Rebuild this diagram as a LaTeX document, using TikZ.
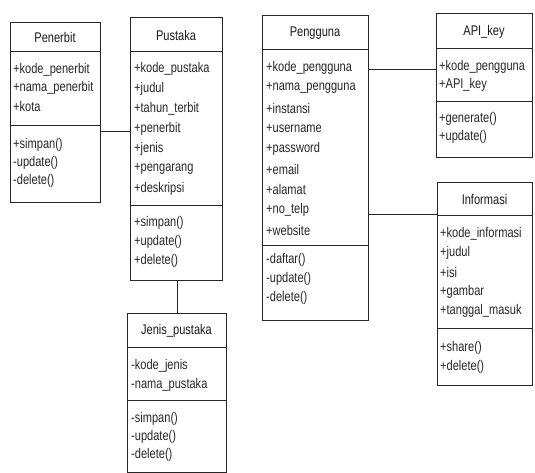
\documentclass[tikz,border=0pt]{standalone}
\usepackage{fontspec}
\setmainfont{Liberation Sans}[FakeStretch=0.79]
\begin{document}
\begin{tikzpicture}[x=1pt,y=-1pt,
  cls/.style={draw=black!85, line width=1.1pt, inner sep=0pt, anchor=north west},
  txt/.style={anchor=west, inner sep=0pt, font=\fontsize{14}{16}\selectfont, text=black!85},
  ttl/.style={anchor=center, inner sep=0pt, font=\fontsize{14}{16}\selectfont, text=black!90},
  sepline/.style={draw=black!85, line width=1pt},
  lnk/.style={draw=black!85, line width=1pt}]
\useasboundingbox (0,0) rectangle (535,473);

% ---------- Penerbit ----------
\node[cls, minimum width=90pt, minimum height=180pt] (penerbit) at (10,22) {};
\node[ttl] (pen-t) at (55,37) {Penerbit};
\draw[sepline] (penerbit.west |- 0,52) -- (penerbit.east |- 0,52);
\draw[sepline] (penerbit.west |- 0,126) -- (penerbit.east |- 0,126);
\foreach \t [count=\i] in {+kode\_penerbit,+nama\_penerbit,+kota}
  \node[txt] (pen-a\i) at (13,52+18*\i) {\t};
\foreach \t [count=\i] in {+simpan(),-update(),-delete()}
  \node[txt] (pen-m\i) at (13,127+18*\i) {\t};

% ---------- Pustaka ----------
\node[cls, minimum width=92pt, minimum height=263pt] (pustaka) at (130,17) {};
\node[ttl] (pus-t) at (176,35) {Pustaka};
\draw[sepline] (pustaka.west |- 0,52) -- (pustaka.east |- 0,52);
\draw[sepline] (pustaka.west |- 0,205) -- (pustaka.east |- 0,205);
\foreach \t [count=\i] in {+kode\_pustaka,+judul,+tahun\_terbit,+penerbit,+jenis,+pengarang,+deskripsi}
  \node[txt] (pus-a\i) at (134,49+20*\i) {\t};
\foreach \t [count=\i] in {+simpan(),+update(),+delete()}
  \node[txt] (pus-m\i) at (134,204+19*\i) {\t};

% ---------- Jenis_pustaka ----------
\node[cls, minimum width=99pt, minimum height=159pt] (jenis) at (127,313) {};
\node[ttl] (jen-t) at (176.5,331) {Jenis\_pustaka};
\draw[sepline] (jenis.west |- 0,347) -- (jenis.east |- 0,347);
\draw[sepline] (jenis.west |- 0,400) -- (jenis.east |- 0,400);
\foreach \t [count=\i] in {-kode\_jenis,-nama\_pustaka}
  \node[txt] (jen-a\i) at (131,347+19*\i) {\t};
\foreach \t [count=\i] in {-simpan(),-update(),-delete()}
  \node[txt] (jen-m\i) at (131,401+18*\i) {\t};

% ---------- Pengguna ----------
\node[cls, minimum width=106pt, minimum height=305pt] (pengguna) at (262,15) {};
\node[ttl] (peng-t) at (315,33) {Pengguna};
\draw[sepline] (pengguna.west |- 0,50) -- (pengguna.east |- 0,50);
\draw[sepline] (pengguna.west |- 0,245) -- (pengguna.east |- 0,245);
\foreach \t [count=\i] in {+kode\_pengguna,+nama\_pengguna,+instansi,+username,+password,+email,+alamat,+no\_telp,+website}
  \node[txt] (peng-a\i) at (266,47.75+20.25*\i) {\t};
\foreach \t [count=\i] in {-daftar(),-update(),-delete()}
  \node[txt] (peng-m\i) at (266,241+19*\i) {\t};

% ---------- API_key ----------
\node[cls, minimum width=96pt, minimum height=144pt] (apikey) at (436,13) {};
\node[ttl] (api-t) at (484,32) {API\_key};
\draw[sepline] (apikey.west |- 0,49) -- (apikey.east |- 0,49);
\draw[sepline] (apikey.west |- 0,102) -- (apikey.east |- 0,102);
\foreach \t [count=\i] in {+kode\_pengguna,+API\_key}
  \node[txt] (api-a\i) at (439,49+18*\i) {\t};
\foreach \t [count=\i] in {+generate(),+update()}
  \node[txt] (api-m\i) at (439,101+18*\i) {\t};

% ---------- Informasi ----------
\node[cls, minimum width=95pt, minimum height=203pt] (informasi) at (437,182) {};
\node[ttl] (inf-t) at (484.5,199) {Informasi};
\draw[sepline] (informasi.west |- 0,215) -- (informasi.east |- 0,215);
\draw[sepline] (informasi.west |- 0,328) -- (informasi.east |- 0,328);
\foreach \t [count=\i] in {+kode\_informasi,+judul,+isi,+gambar,+tanggal\_masuk}
  \node[txt] (inf-a\i) at (440,214.5+19.25*\i) {\t};
\foreach \t [count=\i] in {+share(),+delete()}
  \node[txt] (inf-m\i) at (440,329+19*\i) {\t};

% ---------- Connectors ----------
\coordinate (c1) at (0,132);
\coordinate (c2) at (177,0);
\coordinate (c3) at (0,70);
\coordinate (c4) at (0,214);
\draw[lnk] (penerbit.east |- c1) -- (pustaka.west |- c1);
\draw[lnk] (pustaka.south -| c2) -- (jenis.north -| c2);
\draw[lnk] (pengguna.east |- c3) -- (apikey.west |- c3);
\draw[lnk] (pengguna.east |- c4) -- (informasi.west |- c4);
\end{tikzpicture}
\end{document}
